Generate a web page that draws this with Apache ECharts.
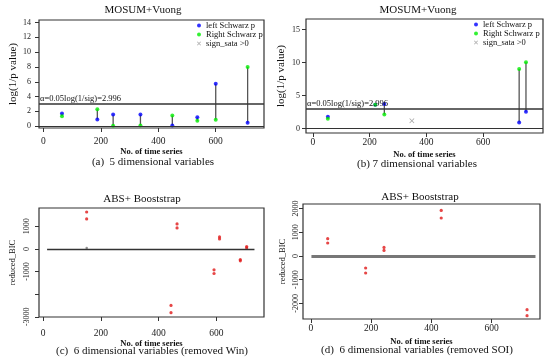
<!DOCTYPE html>
<html><head><meta charset="utf-8">
<script src="https://cdn.jsdelivr.net/npm/echarts@6/dist/echarts.min.js"></script>
<style>html,body{margin:0;padding:0;background:#fff}#c{width:550px;height:361px}</style>
</head><body><div id="c"></div>
<script>
// Panel (a): 5 dimensional variables
const xA = [65, 188, 243, 338, 449, 536, 600, 711];
const leftA = [1.72, 0.9, 1.58, 1.58, 0.1, 1.2, 5.73, 0.45];
const rightA = [1.35, 2.3, 0.05, 0.1, 1.45, 0.72, 0.85, 8.0];
// Panel (b): 7 dimensional variables
const xB = [53, 220, 252, 727, 751];
const leftB = [1.8, 3.62, 3.75, 0.95, 2.56];
const rightB = [1.5, 3.62, 2.16, 9.05, 10.06];
const signX = [349];
const signY = [1.2];
// Panel (c): removed Win
const xC = [151, 151, 443, 443, 464, 464, 592, 592, 611, 611, 683, 683, 705, 705];
const yC = [1630, 1322, -2498, -2820, 1101, 925, -925, -1088, 529, 440, -471, -529, 101, 44];
const xC0 = [151];
const yC0 = [40];
// Panel (d): removed SOI
const xD = [56, 56, 182, 182, 243, 243, 433, 433, 718, 718];
const yD = [730, 548, -506, -717, 363, 236, 1924, 1603, -2266, -2519];
// threshold & ticks
const threshold = 2.996;
const thresholdLabel = 'α=0.05log(1/sig)=2.996';
const xTicks = [0, 200, 400, 600];
const yTicksA = [0, 2, 4, 6, 8, 10, 12, 14];
const yTicksB = [0, 5, 10, 15];
const yTicksC = [-3000, -2000, -1000, 0, 1000];
const yLabelsC = [-3000, -1000, 0, 1000];
const yTicksD = [-2000, -1000, 0, 1000, 2000];
const zeroSegC = [14, 732];
const zeroSegD = [2, 746];

const SERIF = '"Liberation Serif", "DejaVu Serif", serif';
const XPATH = 'path://M0,1L1,0L5,4L9,0L10,1L6,5L10,9L9,10L5,6L1,10L0,9L4,5Z';
const zip = (xs, ys) => xs.map((x, i) => [x, ys[i]]);
const plain = v => String(v);

function xAxis(gi, min, max, margin, nameGap) {
  return {
    type: 'value', gridIndex: gi, min, max,
    axisLine: { show: false, onZero: false },
    axisTick: { show: true, length: 4, customValues: xTicks, lineStyle: { color: '#333' } },
    axisLabel: { customValues: xTicks, formatter: plain, fontFamily: SERIF, fontSize: 9.5, color: '#222', margin },
    splitLine: { show: false },
    name: 'No. of time series', nameLocation: 'middle', nameGap,
    nameTextStyle: { fontFamily: SERIF, fontSize: 8.5, fontWeight: 'bold', color: '#111' }
  };
}
function yAxis(gi, min, max, ticks, labels, opts) {
  return {
    type: 'value', gridIndex: gi, min, max,
    axisLine: { show: false, onZero: false },
    axisTick: { show: true, length: 4, customValues: ticks, lineStyle: { color: '#333' } },
    axisLabel: Object.assign({ customValues: labels, formatter: plain, fontFamily: SERIF, fontSize: 8, color: '#222' }, opts.label),
    splitLine: { show: false },
    name: opts.name, nameLocation: 'middle', nameGap: opts.nameGap,
    nameTextStyle: { fontFamily: SERIF, fontSize: opts.nameSize, color: '#111' }
  };
}
function segRender(params, api) {
  const p1 = api.coord([api.value(0), api.value(1)]);
  const p2 = api.coord([api.value(0), api.value(2)]);
  return { type: 'line', shape: { x1: p1[0], y1: p1[1], x2: p2[0], y2: p2[1] },
    style: { stroke: '#555', lineWidth: 1.3 } };
}
function thresholdLines() {
  return {
    symbol: 'none', silent: true, animation: false,
    data: [
      { yAxis: threshold, lineStyle: { color: '#333', width: 1.6, type: 'solid' },
        label: { show: true, position: 'insideStartTop', formatter: thresholdLabel, fontFamily: SERIF, fontSize: 8.5, color: '#111', distance: [1, 1] } },
      { yAxis: 0, lineStyle: { color: '#333', width: 1.2, type: 'solid' }, label: { show: false } }
    ]
  };
}
function zeroSeg(seg, width, color) {
  return { symbol: 'none', silent: true, animation: false,
    lineStyle: { color, width, type: 'solid' }, label: { show: false },
    data: [[{ coord: [seg[0], 0] }, { coord: [seg[1], 0] }]] };
}
const legendCommon = {
  orient: 'vertical', itemWidth: 4, itemHeight: 4, itemGap: 0, padding: 0, selectedMode: false,
  textStyle: { fontFamily: SERIF, fontSize: 8.5, lineHeight: 7, color: '#111' },
  data: [{ name: 'left Schwarz p', icon: 'circle' }, { name: 'Right Schwarz p', icon: 'circle' }, { name: 'sign_sata >0', icon: XPATH }]
};
function txt(x, y, text, size, weight) {
  return { type: 'text', x, y, style: { text, textAlign: 'center', textVerticalAlign: 'middle',
    font: (weight || 'normal') + ' ' + size + 'px ' + SERIF, fill: '#111' } };
}

const option = {
  animation: false,
  backgroundColor: '#fff',
  grid: [
    { left: 39, top: 20, width: 225, height: 108, show: true, borderColor: '#333', borderWidth: 1.2, backgroundColor: 'transparent' },
    { left: 306, top: 19, width: 237, height: 114, show: true, borderColor: '#333', borderWidth: 1.2, backgroundColor: 'transparent' },
    { left: 39, top: 208, width: 225, height: 109, show: true, borderColor: '#333', borderWidth: 1.2, backgroundColor: 'transparent' },
    { left: 303, top: 204, width: 237, height: 115, show: true, borderColor: '#333', borderWidth: 1.2, backgroundColor: 'transparent' }
  ],
  xAxis: [
    xAxis(0, -15, 768, 8, 18),
    xAxis(1, -24, 811, 4, 17),
    xAxis(2, -14, 765, 11, 21),
    xAxis(3, -26, 761, 4, 18)
  ],
  yAxis: [
    yAxis(0, -0.25, 14.35, yTicksA, yTicksA, { name: 'log(1/p value)', nameGap: 19.5, nameSize: 11, label: { margin: 8 } }),
    yAxis(1, -0.65, 16.6, yTicksB, yTicksB, { name: 'log(1/p value)', nameGap: 19.5, nameSize: 11, label: { margin: 6 } }),
    yAxis(2, -3010, 1806, yTicksC, yLabelsC, { name: 'reduced_BIC', nameGap: 22, nameSize: 8.5, label: { rotate: 90, margin: 8, fontSize: 8 } }),
    yAxis(3, -2658, 2194, yTicksD, yTicksD, { name: 'reduced_BIC', nameGap: 15.5, nameSize: 8.5, label: { rotate: 90, margin: 3, fontSize: 8 } })
  ],
  legend: [
    Object.assign({ left: 197, top: 21 }, legendCommon),
    Object.assign({ left: 474, top: 20 }, legendCommon)
  ],
  graphic: [
    txt(143, 10, 'MOSUM+Vuong', 11),
    txt(418, 10, 'MOSUM+Vuong', 11),
    txt(142, 199, 'ABS+ Booststrap', 11),
    txt(420, 197, 'ABS+ Booststrap', 11),
    txt(153, 162.5, '(a)  5 dimensional variables', 11),
    txt(417, 164, '(b) 7 dimensional variables', 11),
    txt(152, 351.5, '(c)  6 dimensional variables (removed Win)', 11),
    txt(417, 350, '(d)  6 dimensional variables (removed SOI)', 11)
  ],
  series: [
    // panel (a)
    { type: 'custom', name: 'segA', xAxisIndex: 0, yAxisIndex: 0, renderItem: segRender,
      encode: { x: 0, y: [1, 2] }, data: xA.map((x, i) => [x, leftA[i], rightA[i]]), silent: true, z: 2,
      markLine: thresholdLines() },
    { type: 'scatter', name: 'left Schwarz p', xAxisIndex: 0, yAxisIndex: 0, symbolSize: 4, itemStyle: { color: '#0000ff' }, data: zip(xA, leftA), z: 3 },
    { type: 'scatter', name: 'Right Schwarz p', xAxisIndex: 0, yAxisIndex: 0, symbolSize: 4, itemStyle: { color: '#00ee00' }, data: zip(xA, rightA), z: 3 },
    // panel (b)
    { type: 'custom', name: 'segB', xAxisIndex: 1, yAxisIndex: 1, renderItem: segRender,
      encode: { x: 0, y: [1, 2] }, data: xB.map((x, i) => [x, leftB[i], rightB[i]]), silent: true, z: 2,
      markLine: thresholdLines() },
    { type: 'scatter', name: 'left Schwarz p', xAxisIndex: 1, yAxisIndex: 1, symbolSize: 4, itemStyle: { color: '#0000ff' }, data: zip(xB, leftB), z: 3 },
    { type: 'scatter', name: 'Right Schwarz p', xAxisIndex: 1, yAxisIndex: 1, symbolSize: 4, itemStyle: { color: '#00ee00' }, data: zip(xB, rightB), z: 3 },
    { type: 'scatter', name: 'sign_sata >0', xAxisIndex: 1, yAxisIndex: 1, symbol: XPATH, symbolSize: 5, itemStyle: { color: '#888' }, data: zip(signX, signY), z: 3 },
    // panel (c)
    { type: 'scatter', name: 'bicC', xAxisIndex: 2, yAxisIndex: 2, symbolSize: 3.2, itemStyle: { color: '#e01818' }, data: zip(xC, yC), z: 3,
      markLine: zeroSeg(zeroSegC, 1.3, '#333') },
    { type: 'scatter', name: 'bicC0', xAxisIndex: 2, yAxisIndex: 2, symbolSize: 2.5, itemStyle: { color: '#777' }, data: zip(xC0, yC0), z: 4 },
    // panel (d)
    { type: 'scatter', name: 'bicD', xAxisIndex: 3, yAxisIndex: 3, symbolSize: 3.2, itemStyle: { color: '#e01818' }, data: zip(xD, yD), z: 3,
      markLine: zeroSeg(zeroSegD, 3, '#777') }
  ]
};
const chart = echarts.init(document.getElementById('c'), null, { renderer: 'canvas' });
chart.setOption(option);
</script></body></html>
